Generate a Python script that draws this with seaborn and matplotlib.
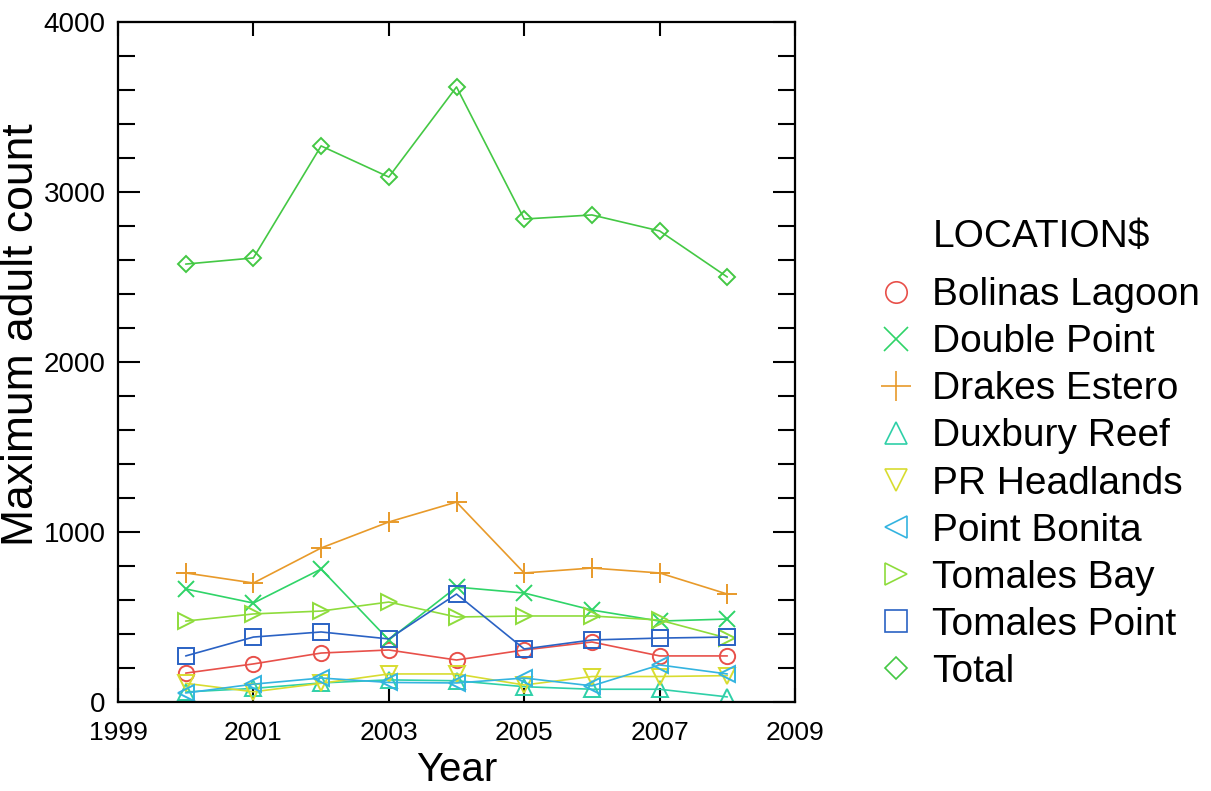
import matplotlib
matplotlib.use("Agg")
import matplotlib.pyplot as plt
from matplotlib.ticker import MultipleLocator
import seaborn as sns
import pandas as pd

years = [2000, 2001, 2002, 2003, 2004, 2005, 2006, 2007, 2008]

bolinas_lagoon = [170, 224, 288, 306, 247, 306, 353, 271, 271]
double_point = [665, 582, 782, 365, 676, 641, 541, 476, 488]
drakes_estero = [759, 700, 906, 1059, 1176, 759, 788, 759, 635]
duxbury_reef = [59, 80, 112, 130, 125, 90, 75, 75, 30]
pr_headlands = [110, 60, 110, 165, 165, 100, 150, 150, 155]
point_bonita = [53, 105, 141, 115, 112, 141, 95, 218, 165]
tomales_bay = [476, 518, 535, 588, 500, 506, 506, 482, 376]
tomales_point = [271, 382, 412, 371, 635, 312, 365, 376, 382]
total = [2576, 2612, 3271, 3088, 3618, 2841, 2865, 2771, 2500]

locations = ["Bolinas Lagoon", "Double Point", "Drakes Estero", "Duxbury Reef",
             "PR Headlands", "Point Bonita", "Tomales Bay", "Tomales Point", "Total"]
series = [bolinas_lagoon, double_point, drakes_estero, duxbury_reef,
          pr_headlands, point_bonita, tomales_bay, tomales_point, total]
colors = ["#e8504a", "#2fd468", "#e89a2a", "#2fd0a8", "#d8dc30",
          "#34b4e0", "#8edc3c", "#2a62c4", "#44c844"]
markers = ["o", "x", "+", "^", "v", "<", ">", "s", "D"]
msizes = [11, 12, 15, 11, 11, 11, 11, 11, 8]

sns.set_style("white")
plt.rcParams["font.family"] = ["Liberation Sans", "DejaVu Sans"]
plt.rcParams["text.color"] = "black"
plt.rcParams["axes.labelcolor"] = "black"
plt.rcParams["xtick.color"] = "black"
plt.rcParams["ytick.color"] = "black"

fig = plt.figure(figsize=(12.11, 7.91), dpi=100)
ax = fig.add_axes([118 / 1211, 1 - 702 / 791, (795 - 118) / 1211, (702 - 22) / 791])

handles = []
for name, vals, c, m, ms in zip(locations, series, colors, markers, msizes):
    df = pd.DataFrame({"Year": years, "Count": vals})
    sns.lineplot(data=df, x="Year", y="Count", ax=ax, color=c, linewidth=1.2,
                 legend=False)
    line = ax.lines[-1]
    line.set_marker(m)
    line.set_markersize(ms)
    line.set_markerfacecolor("none")
    line.set_markeredgecolor(c)
    line.set_markeredgewidth(1.4)
    h = plt.Line2D([], [], linestyle="none", marker=m, markersize=ms * 1.4,
                   markerfacecolor="none", markeredgecolor=c, markeredgewidth=1.2)
    handles.append(h)

ax.set_xlim(1999, 2009)
ax.set_ylim(0, 4000)
ax.set_xticks([1999, 2001, 2003, 2005, 2007, 2009])
ax.yaxis.set_major_locator(MultipleLocator(1000))
ax.yaxis.set_minor_locator(MultipleLocator(200))
ax.tick_params(axis="both", which="both", direction="in", top=True, right=True,
               bottom=True, left=True, color="black", width=1.5)
ax.tick_params(axis="x", which="major", length=10, labelsize=19, pad=14)
ax.tick_params(axis="y", which="major", length=16, labelsize=20, pad=9)
ax.tick_params(axis="y", which="minor", length=12)
for s in ax.spines.values():
    s.set_color("black")
    s.set_linewidth(1.6)

ax.set_xlabel("Year", fontsize=29, labelpad=4)
ax.set_ylabel("Maximum adult count", fontsize=32)
ax.yaxis.set_label_coords(-0.112, 0.54)

leg = fig.legend(handles, locations, loc="upper left",
                 bbox_to_anchor=(843 / 1211, 1 - 250 / 791), frameon=False,
                 fontsize=28, labelspacing=0.285,
                 handletextpad=0.3, handlelength=1.3, borderpad=0.2)
fig.text(933 / 1211, 1 - 237 / 791, "LOCATION$", fontsize=28,
         ha="left", va="center")

fig.savefig("out.png", dpi=100, facecolor="white")
